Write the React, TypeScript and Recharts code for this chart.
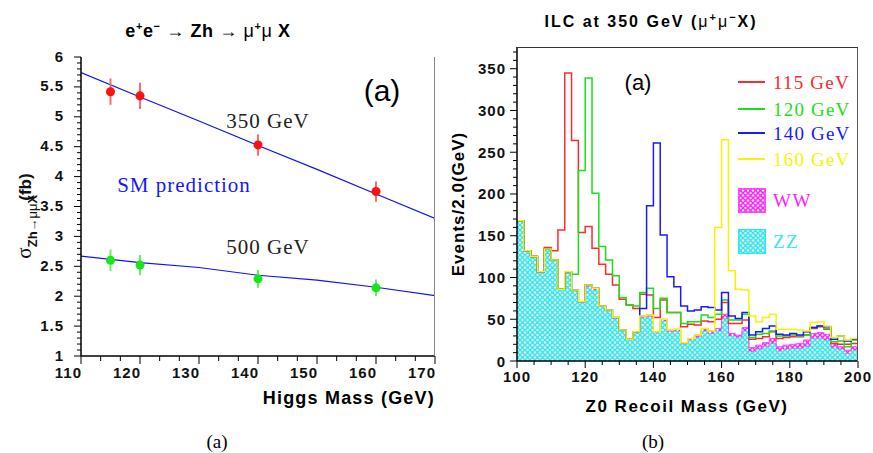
import React from 'react';
import { ComposedChart, Line, Scatter, ErrorBar, Area, XAxis, YAxis } from 'recharts';

// ---------- panel (a): sigma(Zh -> mu mu X) vs Higgs mass ----------
const higgsMass = [115, 120, 140, 160];
const xs350 = [5.42, 5.35, 4.53, 3.75];
const err350 = [0.22, 0.22, 0.18, 0.17];
const xs500 = [2.6, 2.52, 2.29, 2.14];
const err500 = [0.18, 0.17, 0.15, 0.14];

const smMass = [110, 120, 130, 140, 150, 160, 170];
const sm350 = [5.74, 5.33, 4.93, 4.52, 4.12, 3.71, 3.3];
const sm500 = [2.67, 2.56, 2.48, 2.35, 2.27, 2.15, 2.01];

const massLabels = [110, 120, 130, 140, 150, 160, 170];
const sigmaLabels = [1, 1.5, 2, 2.5, 3, 3.5, 4, 4.5, 5, 5.5, 6];

// ---------- panel (b): Z0 recoil mass histograms, 2 GeV bins from 100 ----------
const binStart = 100;
const binWidth = 2;
const zz = [167, 131, 124, 106, 133, 120, 85, 105, 84, 70, 89, 85, 65, 60, 51, 36, 25, 34, 52, 53,
  34, 48, 35, 36, 20, 25, 28, 36, 33, 36, 51, 30, 28, 36, 11, 14, 17, 21, 12, 14,
  15, 15, 17, 27, 27, 25, 16, 14, 9, 13];
const ww = [1, 1, 1, 1, 1, 1, 1, 2, 1, 1, 2, 2, 1, 1, 1, 1, 1, 1, 2, 2,
  1, 2, 2, 2, 2, 2, 3, 3, 3, 3, 5, 3, 3, 4, 5, 5, 5, 6, 5, 5,
  5, 6, 8, 6, 7, 7, 5, 3, 4, 4];
const h115 = [168, 132, 125, 107, 136, 132, 157, 345, 264, 154, 161, 135, 116, 104, 91, 74, 67, 63, 80, 79,
  52, 73, 58, 58, 41, 44, 43, 48, 47, 50, 70, 45, 45, 49, 26, 27, 29, 35, 27, 28,
  29, 29, 31, 39, 41, 38, 21, 20, 20, 21];
const h120 = [168, 132, 125, 107, 134, 121, 86, 107, 104, 228, 339, 201, 137, 121, 102, 76, 67, 66, 82, 87,
  63, 75, 58, 58, 45, 47, 47, 55, 52, 56, 73, 49, 49, 56, 28, 32, 33, 36, 30, 30,
  31, 30, 31, 40, 42, 39, 23, 24, 17, 25];
const h140 = [168, 132, 125, 107, 134, 121, 86, 107, 85, 71, 91, 87, 66, 61, 52, 37, 26, 35, 63, 186,
  261, 151, 101, 89, 66, 60, 61, 65, 64, 61, 82, 54, 51, 58, 31, 35, 39, 42, 32, 31,
  33, 31, 35, 40, 42, 41, 26, 30, 24, 26];
const h160 = [168, 132, 125, 107, 134, 121, 86, 107, 85, 71, 91, 87, 66, 61, 52, 37, 26, 35, 54, 55,
  35, 50, 37, 38, 22, 27, 31, 39, 36, 160, 265, 108, 86, 85, 54, 47, 52, 56, 38, 38,
  38, 37, 36, 46, 47, 42, 28, 30, 25, 27];

const recoilLabels = [100, 120, 140, 160, 180, 200];
const eventLabels = [0, 50, 100, 150, 200, 250, 300, 350];

const signals = [
  { key: 'h115', name: '115 GeV', color: '#ff2a2a' },
  { key: 'h120', name: '120 GeV', color: '#19e019' },
  { key: 'h140', name: '140 GeV', color: '#1a1aff' },
  { key: 'h160', name: '160 GeV', color: '#f5f500' },
];

const sans = '"Liberation Sans", Arial, Helvetica, sans-serif';
const serif = '"Liberation Serif", "Times New Roman", serif';

const range = (a: number, b: number, step: number) =>
  Array.from({ length: Math.round((b - a) / step) + 1 }, (_, i) => +(a + i * step).toFixed(4));

const pts350 = higgsMass.map((m, i) => ({ x: m, y: xs350[i], err: err350[i] }));
const pts500 = higgsMass.map((m, i) => ({ x: m, y: xs500[i], err: err500[i] }));
const line350 = smMass.map((m, i) => ({ x: m, y: sm350[i] }));
const line500 = smMass.map((m, i) => ({ x: m, y: sm500[i] }));

const histData = zz.map((_, i) => ({
  m: binStart + binWidth * i, zz: zz[i], ww: ww[i],
  h115: h115[i], h120: h120[i], h140: h140[i], h160: h160[i],
}));
histData.push({ ...histData[histData.length - 1], m: binStart + binWidth * zz.length });

type TickCfg = {
  side: 'left' | 'bottom'
  labels: number[]
  major: number
  minor: number
  anchor: 'start' | 'middle' | 'end'
  dx: number
  dy: number
}

const fmt = (v: number) => (Number.isInteger(v) ? String(v) : v.toFixed(1));

const makeTick = (c: TickCfg) => (p: any) => {
  const v = Number(p.payload.value);
  const isMajor = c.labels.some(l => Math.abs(l - v) < 1e-6);
  const len = isMajor ? c.major : c.minor;
  const lx2 = c.side === 'left' ? p.x - len : p.x;
  const ly2 = c.side === 'left' ? p.y : p.y + len;
  return (
    <g>
      <line x1={p.x} y1={p.y} x2={lx2} y2={ly2} stroke="#000" strokeWidth={1} />
      {isMajor && (
        <text x={p.x + c.dx} y={p.y + c.dy} textAnchor={c.anchor} dominantBaseline="central"
          fontFamily={sans} fontWeight="bold" fontSize={15} letterSpacing={1} fill="#111">
          {fmt(v)}
        </text>
      )}
    </g>
  );
};

function Txt({ x, y, children, style, align = 'center' }: any) {
  const tx = align === 'center' ? '-50%' : align === 'end' ? '-100%' : '0';
  return (
    <div style={{ position: 'absolute', left: x, top: y, transform: `translate(${tx},-50%)`,
      whiteSpace: 'nowrap', lineHeight: 1, ...style }}>
      {children}
    </div>
  );
}

function VTxt({ x, y, children, style }: any) {
  return (
    <div style={{ position: 'absolute', left: x, top: y, transform: 'translate(-50%,-50%) rotate(-90deg)',
      whiteSpace: 'nowrap', lineHeight: 1, ...style }}>
      {children}
    </div>
  );
}

function Hatch({ id, color }: { id: string, color: string }) {
  return (
    <pattern id={id} width={5} height={5} patternUnits="userSpaceOnUse">
      <rect width={5} height={5} fill="#fff" />
      <path d="M0,0 L5,5 M5,0 L0,5" stroke={color} strokeWidth={1.5} />
    </pattern>
  );
}

const sup = { fontSize: 11, verticalAlign: 'super' } as const;
const bold = { fontFamily: sans, fontWeight: 'bold' } as const;

export default function App() {
  return (
    <div style={{ position: 'absolute', left: 0, top: 0, width: 873, height: 453, background: '#fff', overflow: 'hidden' }}>
      {/* ---- left panel ---- */}
      <div style={{ position: 'absolute', left: 0, top: 0 }}>
        <ComposedChart width={440} height={453} margin={{ top: 57, right: 5, left: 0, bottom: 0 }}>
          <XAxis type="number" dataKey="x" domain={[110, 170]} allowDataOverflow height={97}
            ticks={range(110, 170, 10 / 3)} interval={0} tickLine={false} tickSize={0} tickMargin={0}
            axisLine={{ stroke: '#000', strokeWidth: 1.5 }}
            tick={makeTick({ side: 'bottom', labels: massLabels, major: 8, minor: 5, anchor: 'end', dx: 1, dy: 16 })} />
          <YAxis type="number" domain={[1, 6]} allowDataOverflow width={81}
            ticks={range(1, 6, 0.1)} interval={0} tickLine={false} tickSize={0} tickMargin={0}
            axisLine={{ stroke: '#000', strokeWidth: 1.5 }}
            tick={makeTick({ side: 'left', labels: sigmaLabels, major: 7, minor: 4, anchor: 'end', dx: -17, dy: -1 })} />
          <Line data={line350} dataKey="y" type="linear" stroke="#1010ff" strokeWidth={1.2} dot={false} isAnimationActive={false} />
          <Line data={line500} dataKey="y" type="linear" stroke="#1010ff" strokeWidth={1.2} dot={false} isAnimationActive={false} />
          <Scatter data={pts350} dataKey="y" fill="#ff1010" isAnimationActive={false}>
            <ErrorBar dataKey="err" direction="y" width={0} stroke="#ff6a6a" strokeWidth={2} isAnimationActive={false} />
          </Scatter>
          <Scatter data={pts500} dataKey="y" fill="#19e619" isAnimationActive={false}>
            <ErrorBar dataKey="err" direction="y" width={0} stroke="#66ee66" strokeWidth={2} isAnimationActive={false} />
          </Scatter>
        </ComposedChart>
      </div>
      <div style={{ position: 'absolute', left: 434, top: 57, width: 0, height: 299, borderRight: '1.5px solid #888' }} />

      <Txt x={208} y={30} style={{ ...bold, fontSize: 18, letterSpacing: 0.6 }}>
        e<span style={sup}>+</span>e<span style={sup}>−</span>
        <span style={{ fontWeight: 'normal' }}> → </span>Zh<span style={{ fontWeight: 'normal' }}> → μ</span>
        <span style={sup}>+</span><span style={{ fontWeight: 'normal' }}>μ</span> X
      </Txt>
      <Txt x={382} y={91} style={{ fontFamily: sans, fontSize: 30 }}>(a)</Txt>
      <Txt x={268} y={121} style={{ fontFamily: serif, fontSize: 21, letterSpacing: 1, color: '#222' }}>350 GeV</Txt>
      <Txt x={268} y={247} style={{ fontFamily: serif, fontSize: 21, letterSpacing: 1, color: '#222' }}>500 GeV</Txt>
      <Txt x={184} y={185} style={{ fontFamily: serif, fontSize: 21, letterSpacing: 1, color: '#1515ff' }}>SM prediction</Txt>
      <Txt x={435} y={398} align="end" style={{ ...bold, fontSize: 18, letterSpacing: 1.2 }}>Higgs Mass (GeV)</Txt>
      <VTxt x={24} y={216} style={{ color: '#111' }}>
        <span style={{ fontFamily: serif, fontSize: 21 }}>σ</span>
        <span style={{ ...bold, fontSize: 13, position: 'relative', top: 6 }}>Zh<span style={{ fontWeight: 'normal' }}>→μμ</span>X</span>
        <span style={{ ...bold, fontSize: 17, marginLeft: -6 }}>(fb)</span>
      </VTxt>
      <Txt x={217} y={441} style={{ fontFamily: serif, fontSize: 19 }}>(a)</Txt>

      {/* ---- right panel ---- */}
      <div style={{ position: 'absolute', left: 440, top: 0 }}>
        <ComposedChart width={433} height={453} data={histData} margin={{ top: 47, right: 15, left: 0, bottom: 0 }}>
          <defs>
            <Hatch id="hatchZZ" color="#2ee8ee" />
            <Hatch id="hatchWW" color="#ff22ff" />
          </defs>
          <XAxis type="number" dataKey="m" domain={[100, 200]} allowDataOverflow height={92}
            ticks={range(100, 200, 5)} interval={0} tickLine={false} tickSize={0} tickMargin={0}
            axisLine={{ stroke: '#000', strokeWidth: 1.5 }}
            tick={makeTick({ side: 'bottom', labels: recoilLabels, major: 7, minor: 4, anchor: 'middle', dx: 0, dy: 15 })} />
          <YAxis type="number" domain={[0, 376]} allowDataOverflow width={77}
            ticks={range(0, 370, 10)} interval={0} tickLine={false} tickSize={0} tickMargin={0}
            axisLine={{ stroke: '#000', strokeWidth: 1.5 }}
            tick={makeTick({ side: 'left', labels: eventLabels, major: 7, minor: 4, anchor: 'end', dx: -11, dy: 0 })} />
          <Area dataKey="zz" stackId="bg" type="stepAfter" fill="url(#hatchZZ)" fillOpacity={1}
            stroke="#2ee8ee" strokeWidth={1} isAnimationActive={false} />
          <Area dataKey="ww" stackId="bg" type="stepAfter" fill="url(#hatchWW)" fillOpacity={1}
            stroke="#ff44ff" strokeWidth={1} isAnimationActive={false} />
          {signals.map(s => (
            <Line key={s.key} dataKey={s.key} type="stepAfter" stroke={s.color} strokeWidth={1.5}
              dot={false} isAnimationActive={false} />
          ))}
        </ComposedChart>
      </div>
      <div style={{ position: 'absolute', left: 517, top: 47, width: 340, height: 314,
        borderTop: '1px solid #333', borderRight: '1px solid #555' }} />

      <Txt x={651} y={21} style={{ ...bold, fontSize: 16, letterSpacing: 2 }}>
        ILC at 350 GeV (<span style={{ fontWeight: 'normal' }}>μ</span><span style={sup}>+</span>
        <span style={{ fontWeight: 'normal' }}>μ</span><span style={sup}>−</span>X)
      </Txt>
      <Txt x={638} y={83} style={{ fontFamily: sans, fontSize: 22 }}>(a)</Txt>
      {signals.map((s, i) => (
        <React.Fragment key={s.key}>
          <div style={{ position: 'absolute', left: 738, top: [82, 109, 133, 159][i] - 1, width: 27, height: 0,
            borderTop: `2px solid ${s.color}` }} />
          <Txt x={773} y={[82, 109, 133, 159][i]} align="start"
            style={{ fontFamily: serif, fontSize: 19, letterSpacing: 1.2, color: s.color }}>{s.name}</Txt>
        </React.Fragment>
      ))}
      <svg style={{ position: 'absolute', left: 738, top: 188 }} width={28} height={66}>
        <defs>
          <Hatch id="legWW" color="#ff22ff" />
          <Hatch id="legZZ" color="#2ee8ee" />
        </defs>
        <rect x={0.75} y={0.75} width={26.5} height={23.5} fill="url(#legWW)" stroke="#ff44ff" strokeWidth={1.5} />
        <rect x={0.75} y={41.75} width={26.5} height={23.5} fill="url(#legZZ)" stroke="#2ee8ee" strokeWidth={1.5} />
      </svg>
      <Txt x={773} y={200} align="start" style={{ fontFamily: serif, fontSize: 19, letterSpacing: 1.5, color: '#ff22ff' }}>WW</Txt>
      <Txt x={773} y={241} align="start" style={{ fontFamily: serif, fontSize: 19, letterSpacing: 1.5, color: '#2ee8ee' }}>ZZ</Txt>
      <VTxt x={458} y={204} style={{ ...bold, fontSize: 17, letterSpacing: 1 }}>Events/2.0(GeV)</VTxt>
      <Txt x={687} y={406} style={{ ...bold, fontSize: 17, letterSpacing: 1.5 }}>Z0 Recoil Mass (GeV)</Txt>
      <Txt x={653} y={441} style={{ fontFamily: serif, fontSize: 19 }}>(b)</Txt>
    </div>
  );
}
